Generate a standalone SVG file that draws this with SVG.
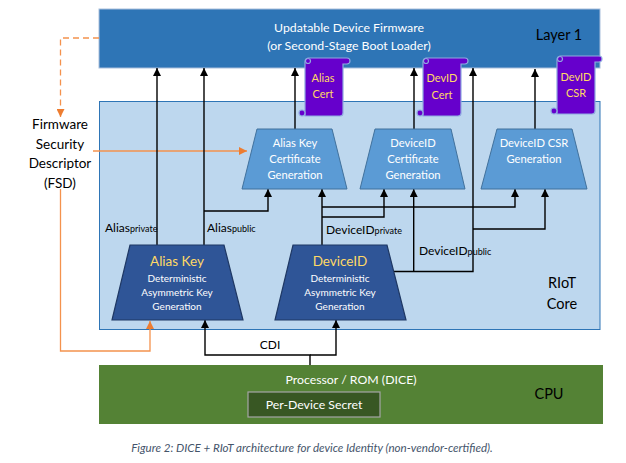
<svg xmlns="http://www.w3.org/2000/svg" width="626" height="463" viewBox="0 0 626 463">
<style>
text{font-family:Lato,"Liberation Sans",sans-serif;text-anchor:middle}
.w{fill:#fff;font-size:11.200px}
.u{fill:#fff;font-size:12.300px}
.m{fill:#fff;font-size:10px}
.k{fill:#000;font-size:13.500px}
.h{fill:#000;font-size:14.500px}
.y{fill:#ffd966;font-size:11px}
.b{fill:#ffd966;font-size:13.500px}
.t{fill:#5b9bd5;stroke:#41719c;stroke-width:1}
.d{fill:#2f5597;stroke:#1f3864;stroke-width:1.2}
.c{fill:none;stroke:#000;stroke-width:1.4}
.o{fill:none;stroke:#f4924d;stroke-width:1.3}
.sc{fill:#6600cc;stroke:#8fa9e0;stroke-width:1.2}
.lab{text-anchor:start;font-size:12px;fill:#000}
</style>
<defs>
<marker id="a" markerWidth="8" markerHeight="8" refX="8" refY="4" orient="auto" markerUnits="userSpaceOnUse" viewBox="0 0 8 8"><path d="M0 0L8 4L0 8Z" fill="#000"/></marker>
<marker id="b" markerWidth="8" markerHeight="8" refX="8" refY="4" orient="auto" markerUnits="userSpaceOnUse" viewBox="0 0 8 8"><path d="M0 0L8 4L0 8Z" fill="#ed7d31"/></marker>
<g id="scroll">
<path class="sc" d="M3 0H42a3 3 0 0 1 0 6H38V55a3 3 0 0 1-3 3H0V4a4 4 0 0 1 3-4Z"/>
<circle class="sc" cx="-3" cy="55" r="3"/>
<circle class="sc" cx="3" cy="3" r="2.500"/>
</g>
</defs>
<g id="layer1"><rect x="99" y="9" width="501" height="59" fill="#2e75b6" stroke="#a9bfdc" stroke-width="1"/><text class="u" x="349" y="32">Updatable Device Firmware</text><text class="u" x="349" y="50">(or Second-Stage Boot Loader)</text><text class="h" x="559" y="40">Layer 1</text></g>
<g id="riot"><rect x="99.500" y="101.500" width="500.500" height="228" fill="#bdd7ee" stroke="#2e75b6" stroke-width="1"/><text class="h" x="562" y="288">RIoT</text><text class="h" x="562" y="309">Core</text></g>
<g id="cpu"><rect x="99" y="365" width="504" height="59" fill="#548235"/><text class="u" x="351" y="384">Processor / ROM (DICE)</text><text class="h" x="549" y="399">CPU</text></g>
<g id="secret"><rect x="248" y="392" width="132" height="25" fill="#385723" stroke="#a6a6a6" stroke-width="1.200"/><text class="u" x="314" y="409">Per-Device Secret</text></g>
<g id="connectors">
<path class="o" d="M99 38H60.500V117" stroke-dasharray="6 4"/>
<path class="o" d="M60.500 110V117" marker-end="url(#b)"/>
<path class="o" d="M93 151H247" marker-end="url(#b)"/>
<path class="o" d="M60.500 189V351H150V321" marker-end="url(#b)"/>
<path class="c" d="M157 245V68" marker-end="url(#a)"/>
<path class="c" d="M204 245V68" marker-end="url(#a)"/>
<path class="c" d="M204 211H268V189" marker-end="url(#a)"/>
<path class="c" d="M295 129V68" marker-end="url(#a)"/>
<path class="c" d="M414 129V68" marker-end="url(#a)"/>
<path class="c" d="M535 129V69" marker-end="url(#a)"/>
<path class="c" d="M322 245V189" marker-end="url(#a)"/>
<path class="c" d="M322 217H384V189" marker-end="url(#a)"/>
<path class="c" d="M322 207H515V189" marker-end="url(#a)"/>
<path class="c" d="M394 271.500H473V68" marker-end="url(#a)"/>
<path class="c" d="M413.700 271.500V189" marker-end="url(#a)"/>
<path class="c" d="M473 229H545V189" marker-end="url(#a)"/>
<path class="c" d="M310 365V355H205V320" marker-end="url(#a)"/>
<path class="c" d="M310 355H336V320" marker-end="url(#a)"/>
</g>
<g id="alias-cert-scroll"><use href="#scroll" x="305" y="58"/><text class="y" x="323" y="82">Alias</text><text class="y" x="323" y="98">Cert</text></g>
<g id="devid-cert-scroll"><use href="#scroll" x="423" y="58"/><text class="y" x="442" y="82">DevID</text><text class="y" x="442" y="99">Cert</text></g>
<g id="devid-csr-scroll"><use href="#scroll" x="557" y="56"/><text class="y" x="576" y="81">DevID</text><text class="y" x="576" y="97">CSR</text></g>
<g id="alias-cert"><path class="t" d="M257 129H332L347 189H242Z"/><text class="w" x="295" y="147">Alias Key</text><text class="w" x="295" y="163">Certificate</text><text class="w" x="295" y="179">Generation</text></g>
<g id="devid-cert"><path class="t" d="M375 129H451L465 189H360Z"/><text class="w" x="413" y="147">DeviceID</text><text class="w" x="413" y="163">Certificate</text><text class="w" x="413" y="179">Generation</text></g>
<g id="csr-gen"><path class="t" d="M497 129H572L587 189H481Z"/><text class="w" x="534" y="147">DeviceID CSR</text><text class="w" x="534" y="163">Generation</text></g>
<g id="alias-key"><path class="d" d="M130 245H224L243 320H112Z"/><text class="b" x="177" y="266">Alias Key</text><text class="m" x="177" y="282">Deterministic</text><text class="m" x="177" y="296">Asymmetric Key</text><text class="m" x="177" y="310">Generation</text></g>
<g id="device-id"><path class="d" d="M293 245H387L406 320H275Z"/><text class="b" x="340" y="266">DeviceID</text><text class="m" x="340" y="282">Deterministic</text><text class="m" x="340" y="296">Asymmetric Key</text><text class="m" x="340" y="310">Generation</text></g>
<g id="fsd"><text class="k" x="60" y="129">Firmware</text><text class="k" x="60" y="149">Security</text><text class="k" x="60" y="168">Descriptor</text><text class="k" x="60" y="188">(FSD)</text></g>
<g id="labels">
<text class="lab" x="105" y="232">Alias<tspan font-size="9">private</tspan></text>
<text class="lab" x="207" y="232">Alias<tspan font-size="9">public</tspan></text>
<text class="lab" x="326" y="234">DeviceID<tspan font-size="9">private</tspan></text>
<text class="lab" x="419" y="255">DeviceID<tspan font-size="9">public</tspan></text>
<text class="k" x="270" y="349" style="font-size:12px">CDI</text>
<text x="312" y="452" style="font-size:11.600px;font-style:italic" fill="#44546a">Figure 2: DICE + RIoT architecture for device Identity (non-vendor-certified).</text>
</g>
</svg>
